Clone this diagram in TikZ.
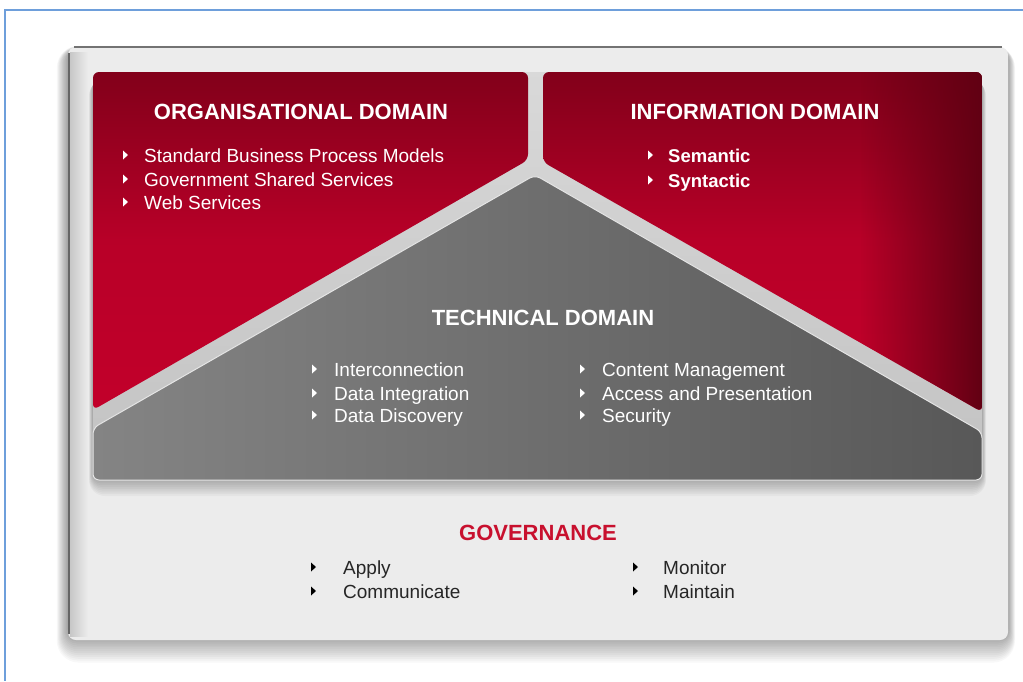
\documentclass[tikz,border=0pt]{standalone}
\usepackage{fontspec}
\setmainfont{Liberation Sans}
\usetikzlibrary{fadings}
\definecolor{frameblue}{HTML}{6E9FDB}
\definecolor{cardgray}{HTML}{ECECEC}
\definecolor{redtop}{HTML}{82001A}
\definecolor{redmid}{HTML}{C2002A}
\definecolor{bandgray}{HTML}{C2C2C2}
\definecolor{techL}{HTML}{848484}
\definecolor{techR}{HTML}{585858}
\definecolor{govred}{HTML}{C8102E}
\tikzfading[name=fadetoright, left color=transparent!100, right color=transparent!0]
\begin{document}
\begin{tikzpicture}[x=1pt,y=-1pt,
  title/.style={anchor=base, inner sep=0pt, font=\fontsize{22}{26}\selectfont\bfseries, text=white},
  witem/.style={anchor=base west, inner sep=0pt, font=\fontsize{19}{22}\selectfont, text=white},
  bitem/.style={anchor=base west, inner sep=0pt, font=\fontsize{18.5}{22}\selectfont\bfseries, text=white},
  kitem/.style={anchor=base west, inner sep=0pt, font=\fontsize{19}{22}\selectfont, text=black!85},
  softshadow/.style={black, opacity=0.028}]
\useasboundingbox (0,0) rectangle (1023,681);
\fill[white] (0,0) rectangle (1023,681);
\draw[frameblue, line width=1.5] (1023,10) -- (5,10) -- (5,681);
% card shadow
\foreach \i in {1,...,14}{
  \fill[softshadow, rounded corners=8+\i] (68-0.8*\i,50-0.3*\i) rectangle (1008+0.5*\i,636+1.9*\i);}
% card
\fill[cardgray, rounded corners=8] (68,47) rectangle (1008,640);
\shade[left color=black!22, right color=cardgray] (70,52) rectangle (88,636);
\draw[black!55, line width=1.5] (74,47) -- (1002,47);
\draw[black!60, line width=1.2] (69,53) -- (69,634);
% backing shadow
\foreach \i in {1,...,10}{
  \fill[black, opacity=0.03, rounded corners=6+\i] (93-0.4*\i,80) rectangle (982+0.4*\i,478+1.8*\i);}
% backing band
\shade[top color=black!15, bottom color=bandgray, rounded corners=6] (93,72) rectangle (982,480);
% organisational panel
\shade[top color=redtop, bottom color=redmid, middle color=redmid!95!black, rounded corners=6] (93,72) -- (528,72) -- (528,160) -- (93,410) -- cycle;
% information panel
\begin{scope}
\clip[rounded corners=6] (543,72) -- (982,72) -- (982,412) -- (543,162) -- cycle;
\shade[top color=redtop, bottom color=redmid, middle color=redmid!95!black] (543,72) rectangle (982,412);
\fill[redtop!75!black, path fading=fadetoright] (860,72) rectangle (983,412);
\end{scope}
% technical panel
\shade[left color=techL, right color=techR, rounded corners=6] (535,175) -- (982,432) -- (982,480) -- (93,480) -- (93,428) -- cycle;
\draw[white!80!gray, line width=1, rounded corners=6] (535,175) -- (982,432) -- (982,480) -- (93,480) -- (93,428) -- cycle;
% titles
\node[title] (orgT) at (301,119) {ORGANISATIONAL DOMAIN};
\node[title] (infoT) at (755,119) {INFORMATION DOMAIN};
\node[title] (techT) at (543,325) {TECHNICAL DOMAIN};
\node[title, text=govred] (govT) at (538,540) {GOVERNANCE};
% items
\foreach \n/\y/\t in {o1/162/Standard Business Process Models, o2/186/Government Shared Services, o3/209/Web Services}{
  \node[witem] (\n) at (144,\y) {\t};
  \fill[white] ([xshift=-21pt,yshift=7pt]\n.base west) +(0,-4.5) -- +(5,0) -- +(0,4.5) -- cycle;}
\foreach \n/\y/\t in {i1/162/Semantic, i2/187/Syntactic}{
  \node[bitem] (\n) at (668,\y) {\t};
  \fill[white] ([xshift=-20pt,yshift=7pt]\n.base west) +(0,-4.5) -- +(5,0) -- +(0,4.5) -- cycle;}
\foreach \n/\y/\t in {t1/376/Interconnection, t2/400/Data Integration, t3/422/Data Discovery}{
  \node[witem] (\n) at (334,\y) {\t};
  \fill[white] ([xshift=-22pt,yshift=7pt]\n.base west) +(0,-4.5) -- +(5,0) -- +(0,4.5) -- cycle;}
\foreach \n/\y/\t in {t4/376/Content Management, t5/400/Access and Presentation, t6/422/Security}{
  \node[witem] (\n) at (602,\y) {\t};
  \fill[white] ([xshift=-22pt,yshift=7pt]\n.base west) +(0,-4.5) -- +(5,0) -- +(0,4.5) -- cycle;}
\foreach \n/\y/\t in {g1/574/Apply, g2/598/Communicate}{
  \node[kitem] (\n) at (343,\y) {\t};
  \fill[black] ([xshift=-32pt,yshift=7pt]\n.base west) +(0,-4.5) -- +(5,0) -- +(0,4.5) -- cycle;}
\foreach \n/\y/\t in {g3/574/Monitor, g4/598/Maintain}{
  \node[kitem] (\n) at (663,\y) {\t};
  \fill[black] ([xshift=-30pt,yshift=7pt]\n.base west) +(0,-4.5) -- +(5,0) -- +(0,4.5) -- cycle;}
\end{tikzpicture}
\end{document}
